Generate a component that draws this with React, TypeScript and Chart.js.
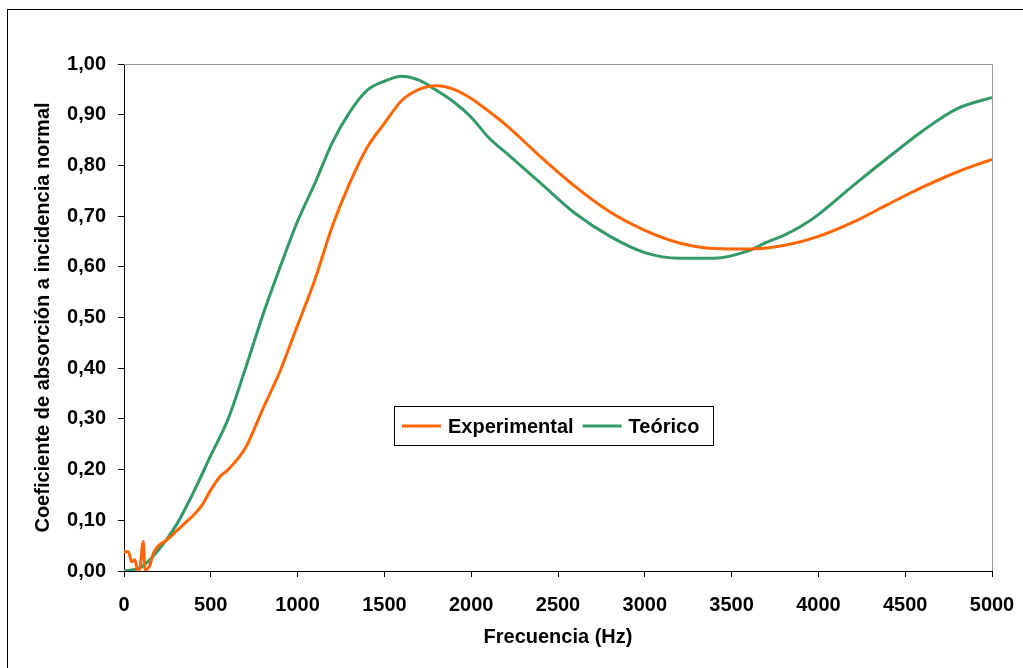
import React, { useEffect, useRef } from "react";
import { Chart, registerables } from "chart.js";

Chart.register(...registerables);

// Frecuencia (Hz) y coeficiente teórico
const freqTeorico = [0, 100, 200, 300, 400, 500, 600, 700, 800, 900, 1000, 1100, 1200, 1300, 1400, 1500, 1600, 1700, 1800, 1900, 2000, 2100, 2200, 2400, 2600, 2800, 3000, 3200, 3400, 3600, 3700, 3800, 3900, 4000, 4200, 4400, 4600, 4800, 5000];
const teorico = [0.0, 0.008, 0.042, 0.09, 0.155, 0.228, 0.3, 0.4, 0.505, 0.6, 0.69, 0.765, 0.845, 0.905, 0.948, 0.966, 0.976, 0.968, 0.948, 0.925, 0.895, 0.855, 0.825, 0.765, 0.705, 0.66, 0.628, 0.617, 0.617, 0.632, 0.648, 0.662, 0.68, 0.703, 0.76, 0.815, 0.868, 0.912, 0.934];

// Frecuencia (Hz) y coeficiente experimental
const freqExp = [0, 25, 44, 63, 80, 92, 111, 121, 150, 169, 200, 250, 300, 350, 400, 450, 500, 550, 600, 700, 800, 900, 1000, 1100, 1200, 1300, 1400, 1500, 1600, 1700, 1800, 1900, 2000, 2100, 2200, 2400, 2600, 2800, 3000, 3200, 3400, 3600, 3800, 4000, 4200, 4400, 4600, 4800, 5000];
const experimental = [0.038, 0.038, 0.018, 0.022, 0.0, 0.006, 0.058, 0.002, 0.012, 0.035, 0.05, 0.062, 0.078, 0.094, 0.11, 0.13, 0.16, 0.185, 0.2, 0.243, 0.32, 0.395, 0.485, 0.575, 0.68, 0.765, 0.835, 0.883, 0.928, 0.95, 0.957, 0.95, 0.932, 0.907, 0.88, 0.817, 0.758, 0.708, 0.672, 0.647, 0.636, 0.635, 0.642, 0.66, 0.688, 0.723, 0.757, 0.787, 0.812];

const seriesLabels = ["Experimental", "Teórico"];
const seriesColors = ["#FF6600", "#339966"];
const xTitle = "Frecuencia (Hz)";
const yTitle = "Coeficiente de absorción a incidencia normal";

const FONT = "'Liberation Sans', Arial, sans-serif";

const framePlugin = {
  id: "frame",
  beforeDraw(chart: any) {
    const ctx = chart.ctx;
    ctx.save();
    ctx.fillStyle = "#ffffff";
    ctx.fillRect(0, 0, chart.width, chart.height);
    ctx.strokeStyle = "#000000";
    ctx.lineWidth = 1;
    ctx.strokeRect(7.5, 9.5, chart.width + 50, chart.height + 50);
    ctx.restore();
  },
  beforeDatasetsDraw(chart: any) {
    const { ctx, chartArea: ca } = chart;
    ctx.save();
    ctx.strokeStyle = "#9a9a9a";
    ctx.lineWidth = 1;
    ctx.beginPath();
    ctx.moveTo(ca.left, ca.top + 0.5);
    ctx.lineTo(ca.right + 0.5, ca.top + 0.5);
    ctx.lineTo(ca.right + 0.5, ca.bottom);
    ctx.stroke();
    ctx.restore();
  },
  afterDraw(chart: any) {
    const { ctx, chartArea: ca } = chart;
    const bx = ca.left + 270;
    const by = ca.top + 342;
    const bw = 319;
    const bh = 39;
    ctx.save();
    ctx.fillStyle = "#ffffff";
    ctx.fillRect(bx, by, bw, bh);
    ctx.strokeStyle = "#000000";
    ctx.lineWidth = 1;
    ctx.strokeRect(bx + 0.5, by + 0.5, bw, bh);
    ctx.font = `bold 20px ${FONT}`;
    ctx.textBaseline = "middle";
    ctx.fillStyle = "#000000";
    const cy = by + 20;
    let x = bx + 8;
    seriesLabels.forEach((lbl, i) => {
      ctx.strokeStyle = seriesColors[i];
      ctx.lineWidth = 3;
      ctx.beginPath();
      ctx.moveTo(x, cy);
      ctx.lineTo(x + 39, cy);
      ctx.stroke();
      x += 46;
      ctx.fillStyle = "#000000";
      ctx.fillText(lbl, x, cy + 1);
      x += ctx.measureText(lbl).width + 9;
    });
    ctx.restore();
  },
};

export default function App() {
  const ref = useRef<HTMLCanvasElement>(null);
  useEffect(() => {
    if (!ref.current) return;
    const chart = new Chart(ref.current, {
      type: "line",
      data: {
        datasets: [
          {
            label: seriesLabels[0],
            data: freqExp.map((f, i) => ({ x: f, y: experimental[i] })),
            borderColor: seriesColors[0],
            borderWidth: 3,
            pointRadius: 0,
            cubicInterpolationMode: "monotone",
          },
          {
            label: seriesLabels[1],
            data: freqTeorico.map((f, i) => ({ x: f, y: teorico[i] })),
            borderColor: seriesColors[1],
            borderWidth: 3,
            pointRadius: 0,
            cubicInterpolationMode: "monotone",
          },
        ],
      },
      options: {
        responsive: false,
        animation: false,
        layout: { padding: { left: 0, top: 64, right: 31, bottom: 0 } },
        plugins: { legend: { display: false }, tooltip: { enabled: false } },
        scales: {
          x: {
            type: "linear",
            min: 0,
            max: 5000,
            afterFit: (s: any) => { s.height = 97; s.paddingLeft = 0; s.paddingRight = 0; },
            ticks: {
              stepSize: 500,
              color: "#000",
              padding: 16,
              font: { family: FONT, size: 20, weight: "bold" },
              maxRotation: 0,
              callback: (v: any) => String(Math.round(Number(v))),
            },
            grid: { display: true, drawOnChartArea: false, drawTicks: true, tickLength: 6, color: "#000", tickColor: "#000" },
            border: { display: true, color: "#000", width: 1 },
            title: { display: true, text: xTitle, color: "#000", font: { family: FONT, size: 20, weight: "bold" }, padding: { top: 0, bottom: 19 } },
          },
          y: {
            type: "linear",
            min: 0,
            max: 1,
            afterFit: (s: any) => { s.width = 124; s.paddingTop = 0; s.paddingBottom = 0; },
            ticks: {
              stepSize: 0.1,
              color: "#000",
              padding: 12,
              font: { family: FONT, size: 20, weight: "bold" },
              callback: (v: any) => Number(v).toFixed(2).replace(".", ","),
            },
            grid: { display: true, drawOnChartArea: false, drawTicks: true, tickLength: 6, color: "#000", tickColor: "#000" },
            border: { display: true, color: "#000", width: 1 },
            title: { display: true, text: yTitle, color: "#000", font: { family: FONT, size: 20, weight: "bold" }, padding: { top: 31, bottom: 0 } },
          },
        },
      },
      plugins: [framePlugin],
    } as any);
    return () => chart.destroy();
  }, []);
  return (
    <div style={{ position: "absolute", left: 0, top: 0, width: 1023, height: 668 }}>
      <canvas ref={ref} width={1023} height={668} style={{ width: 1023, height: 668 }} />
    </div>
  );
}
